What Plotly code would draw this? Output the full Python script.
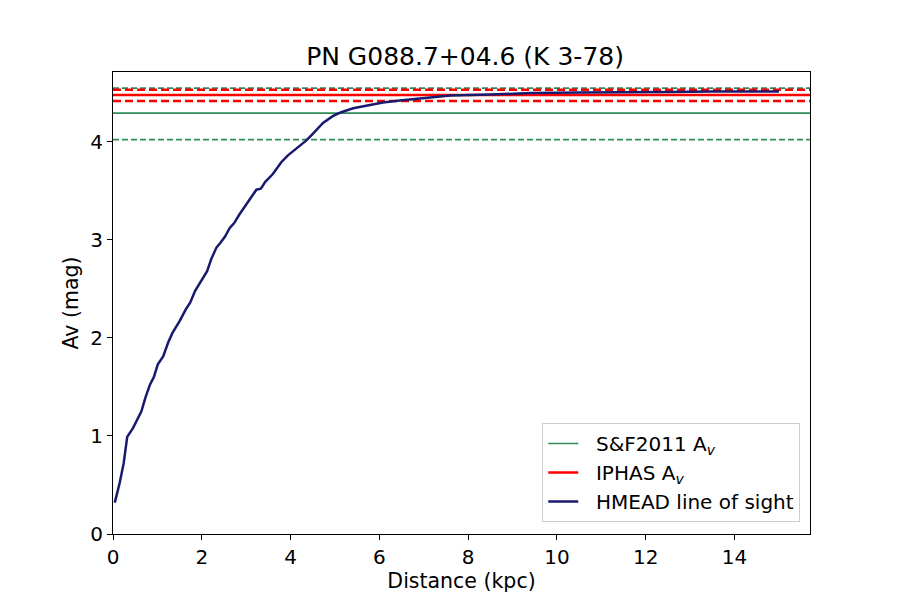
import plotly.graph_objects as go

# HMEAD line of sight
distance = [0.04, 0.15, 0.24, 0.32, 0.45, 0.64, 0.73, 0.83, 0.92, 1.01, 1.13, 1.24, 1.34,
            1.50, 1.64, 1.74, 1.85, 1.99, 2.12, 2.21, 2.33, 2.42, 2.52, 2.63, 2.73, 2.85,
            3.04, 3.23, 3.33, 3.43, 3.60, 3.79, 3.94, 4.05, 4.20, 4.35, 4.50, 4.73, 4.95,
            5.14, 5.41, 5.71, 6.08, 6.46, 7.0, 7.6, 8.5, 9.4, 10.5, 11.5, 12.5, 13.5, 14.3, 15.0]
av_los = [0.32, 0.52, 0.72, 0.99, 1.08, 1.25, 1.39, 1.52, 1.60, 1.73, 1.81, 1.95, 2.05,
          2.17, 2.29, 2.36, 2.48, 2.58, 2.68, 2.80, 2.92, 2.97, 3.03, 3.12, 3.17, 3.26,
          3.38, 3.51, 3.52, 3.59, 3.67, 3.79, 3.86, 3.90, 3.96, 4.01, 4.08, 4.19, 4.26,
          4.30, 4.34, 4.37, 4.40, 4.42, 4.44, 4.47, 4.48, 4.495, 4.50, 4.50, 4.505, 4.51, 4.51, 4.51]

# S&F2011 and IPHAS extinction with limits
sf_av, sf_low, sf_high = 4.29, 4.02, 4.545
iphas_av, iphas_low, iphas_high = 4.475, 4.415, 4.53

x_ticks = [0, 2, 4, 6, 8, 10, 12, 14]
y_ticks = [0, 1, 2, 3, 4]

green = "#2E8B57"
red = "#FF0000"
navy = "#191970"

fig = go.Figure()

# horizontal lines across the whole axes
fig.add_hline(y=sf_av, line=dict(color=green, width=1.7), layer="below")
fig.add_hline(y=sf_low, line=dict(color=green, width=1.7, dash="6px,3px"), layer="below")
fig.add_hline(y=sf_high, line=dict(color=green, width=1.7, dash="6px,3px"), layer="below")
fig.add_hline(y=iphas_av, line=dict(color=red, width=2.5), layer="below")
fig.add_hline(y=iphas_low, line=dict(color=red, width=2.5, dash="8px,4px"), layer="below")
fig.add_hline(y=iphas_high, line=dict(color=red, width=2.5, dash="8px,4px"), layer="below")

# legend entries for the lines
fig.add_trace(go.Scatter(x=[None], y=[None], mode="lines", name="  S&F2011 A<sub><i>v</i></sub>",
                         line=dict(color=green, width=1.7)))
fig.add_trace(go.Scatter(x=[None], y=[None], mode="lines", name="  IPHAS A<sub><i>v</i></sub>",
                         line=dict(color=red, width=2.5)))
fig.add_trace(go.Scatter(x=distance, y=av_los, mode="lines", name="  HMEAD line of sight",
                         line=dict(color=navy, width=2.5)))

axis_style = dict(showgrid=False, zeroline=False, showline=True, linecolor="black",
                  linewidth=1, mirror=True, ticks="outside", ticklen=5, tickwidth=1,
                  tickcolor="black", tickfont=dict(size=20, color="black"))

# page body adds 8px margin, so the figure is 8px smaller
fig.update_layout(
    width=892, height=592,
    font=dict(family="DejaVu Sans", color="black"),
    paper_bgcolor="white", plot_bgcolor="white",
    margin=dict(l=105, r=90, t=64, b=66),
    title=dict(text="PN G088.7+04.6 (K 3-78)", x=0.5124, xanchor="center",
               y=0.919, yanchor="middle", font=dict(size=25)),
    xaxis=dict(range=[0, 15.7], tickvals=x_ticks,
               title=dict(text="Distance (kpc)", font=dict(size=20.5), standoff=2), **axis_style),
    yaxis=dict(range=[0, 4.71], tickvals=y_ticks,
               title=dict(text="Av (mag)", font=dict(size=20.5), standoff=6), **axis_style),
    legend=dict(x=0.986, y=0.026, xanchor="right", yanchor="bottom",
                bgcolor="white", bordercolor="#cccccc", borderwidth=1,
                tracegroupgap=0, font=dict(size=20)),
)

fig.write_html("out.html")
